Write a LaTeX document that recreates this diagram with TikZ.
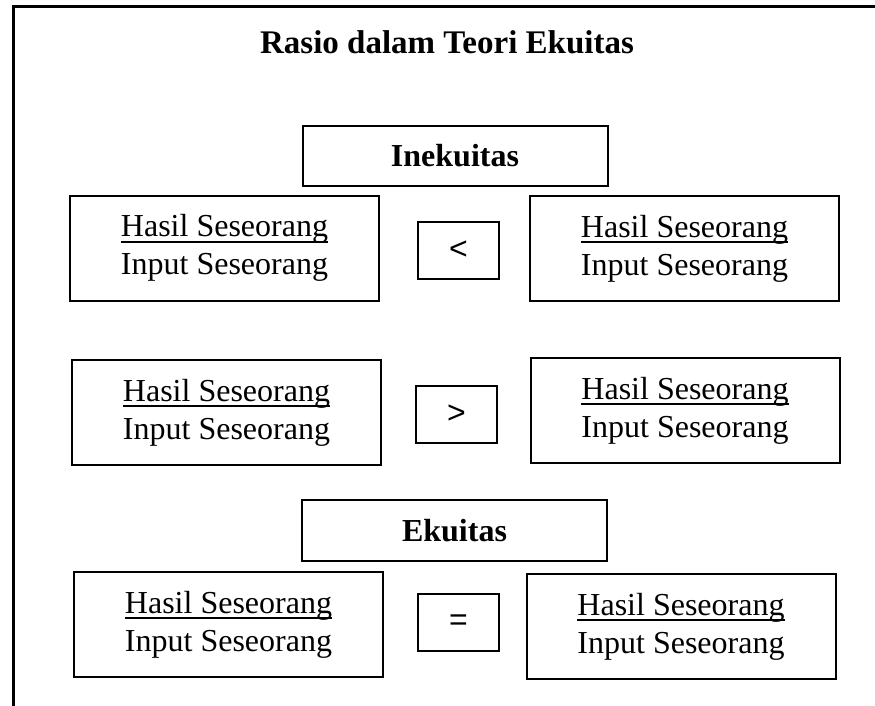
\documentclass[tikz,border=0pt]{standalone}
\usepackage{fontspec}
\setmainfont{Liberation Serif}
\newfontfamily\signfont{Liberation Sans}
\usepackage{tikz}

\newcommand{\garisbawah}[1]{\begingroup\setbox0\hbox{#1}\rlap{\rule[-6pt]{\wd0}{2pt}}\box0\endgroup}
\newcommand{\rasio}{\garisbawah{Hasil Seseorang}\\Input Seseorang}

\begin{document}
\begin{tikzpicture}[x=1pt,y=-1pt,
  ratiobox/.style={draw, line width=2pt, minimum width=309pt, minimum height=105pt,
    inner sep=0pt, align=center, font=\fontsize{32}{38}\selectfont},
  signbox/.style={draw, line width=2pt, minimum width=81pt, minimum height=57pt,
    inner sep=0pt, font=\signfont\fontsize{32}{36}\selectfont},
  headbox/.style={draw, line width=2pt, minimum width=305pt, minimum height=59pt,
    inner sep=0pt, font=\bfseries\fontsize{32}{36}\selectfont}]
  \useasboundingbox (0,0) rectangle (875,706);
  % frame
  \draw[line width=3pt] (13,706) |- (875,7);
  \node[font=\bfseries\fontsize{33}{36}\selectfont] (title) at (447,42) {Rasio dalam Teori Ekuitas};
  % inekuitas
  \node[headbox] (inekuitas) at (455,156) {Inekuitas};
  \node[ratiobox] (kiriA) at (224.5,248) {\rasio};
  \node[signbox] (kurang) at (458.5,250.5) {<};
  \node[ratiobox] (kananA) at (684.5,248.5) {\rasio};
  \node[ratiobox] (kiriB) at (226.5,412.5) {\rasio};
  \node[signbox] (lebih) at (456.5,414.5) {>};
  \node[ratiobox] (kananB) at (685,410.5) {\rasio};
  % ekuitas
  \node[headbox, minimum height=61pt] (ekuitas) at (454.5,530.5) {Ekuitas};
  \node[ratiobox] (kiriC) at (228.5,624.5) {\rasio};
  \node[signbox] (sama) at (458.5,622.5) {=};
  \node[ratiobox] (kananC) at (681,626.5) {\rasio};
\end{tikzpicture}
\end{document}
